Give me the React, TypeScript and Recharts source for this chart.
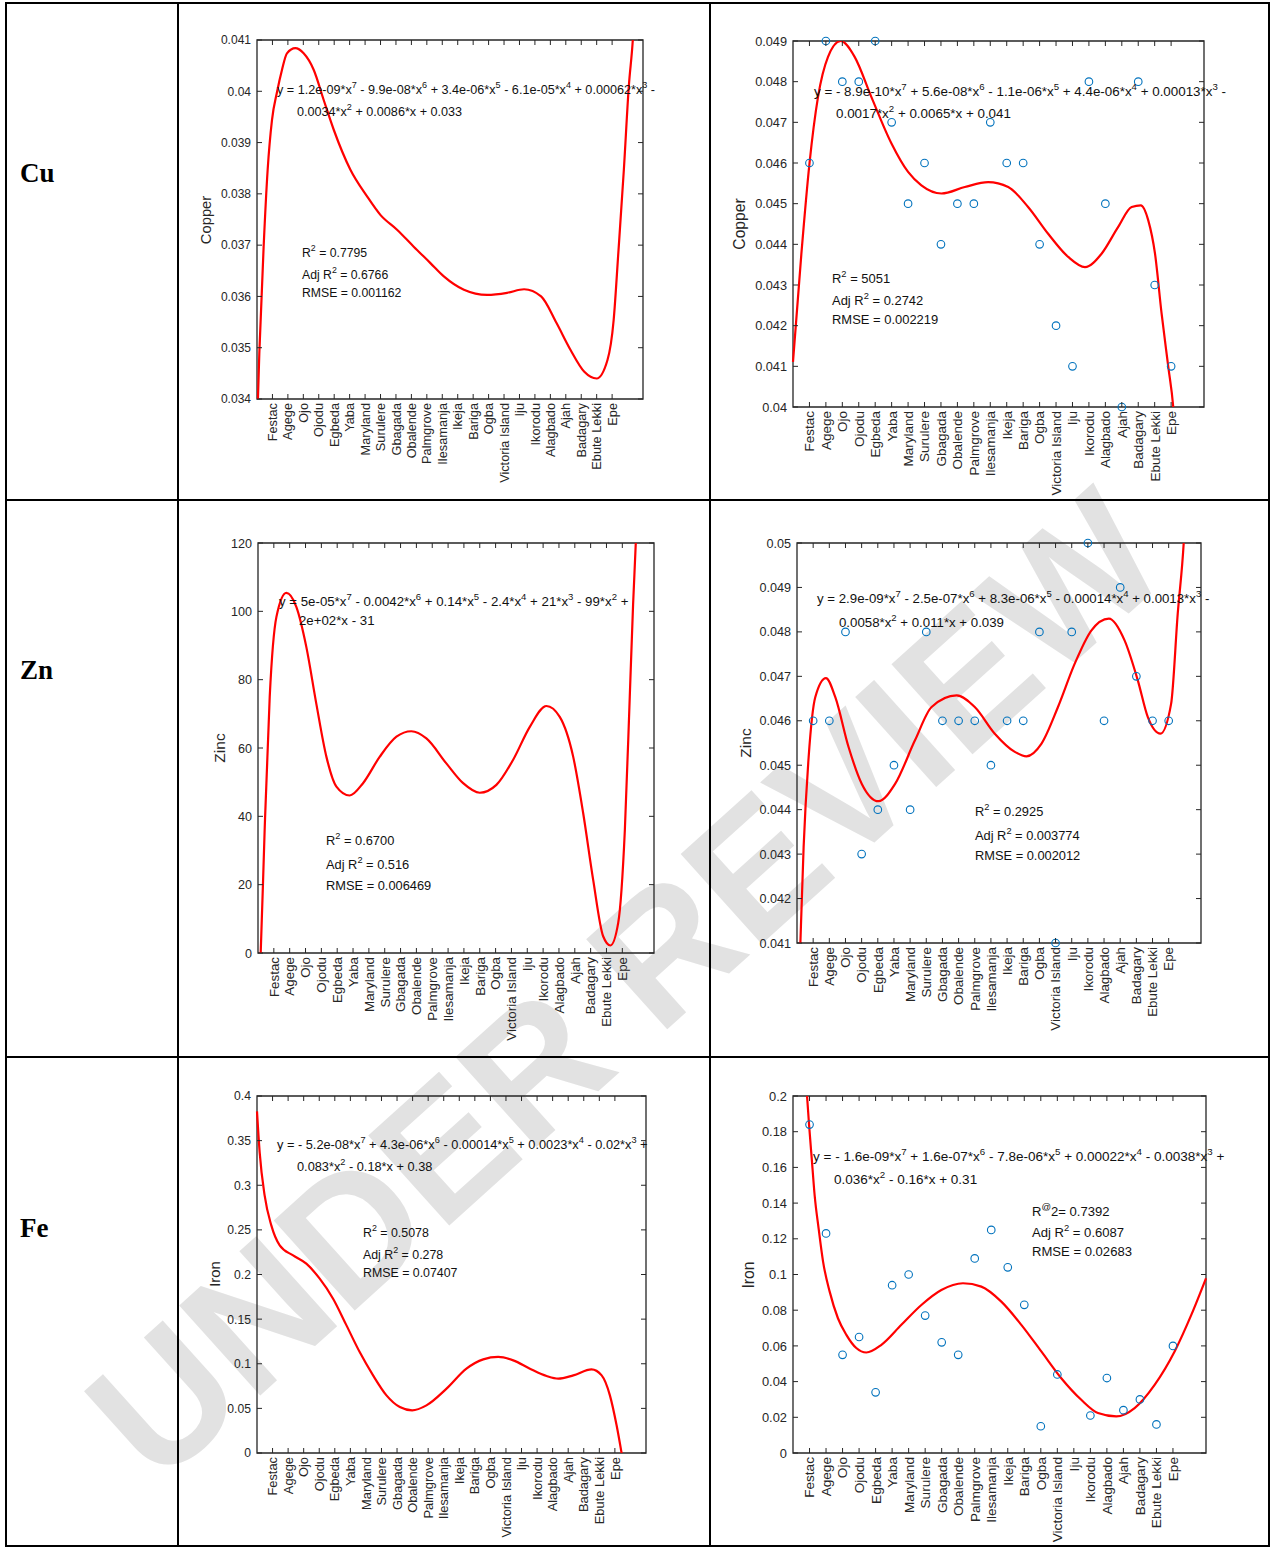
import React from 'react';
import { ComposedChart, Line, Scatter, XAxis, YAxis, ReferenceArea } from 'recharts';

const INK = '#262626';
const FIT_RED = '#ff0000';
const DOT_BLUE = '#0072BD';
const FONT = "'Liberation Sans', Arial, sans-serif";

const SITES = [
  'Festac', 'Agege', 'Ojo', 'Ojodu', 'Egbeda', 'Yaba', 'Maryland', 'Surulere', 'Gbagada',
  'Obalende', 'Palmgrove', 'Ilesamanja', 'Ikeja', 'Bariga', 'Ogba', 'Victoria Island', 'Iju',
  'Ikorodu', 'Alagbado', 'Ajah', 'Badagary', 'Ebute Lekki', 'Epe',
];
const SITE_POS = SITES.map((_, i) => i + 1);

// y tick values per panel
const CU_TICKS_A = [0.034, 0.035, 0.036, 0.037, 0.038, 0.039, 0.04, 0.041];
const CU_TICKS_B = [0.04, 0.041, 0.042, 0.043, 0.044, 0.045, 0.046, 0.047, 0.048, 0.049];
const ZN_TICKS_A = [0, 20, 40, 60, 80, 100, 120];
const ZN_TICKS_B = [0.041, 0.042, 0.043, 0.044, 0.045, 0.046, 0.047, 0.048, 0.049, 0.05];
const FE_TICKS_A = [0, 0.05, 0.1, 0.15, 0.2, 0.25, 0.3, 0.35, 0.4];
const FE_TICKS_B = [0, 0.02, 0.04, 0.06, 0.08, 0.1, 0.12, 0.14, 0.16, 0.18, 0.2];

// measured values (one per site, right-hand panels)
const CU_MEASURED = [0.046, 0.049, 0.048, 0.048, 0.049, 0.047, 0.045, 0.046, 0.044, 0.045, 0.045, 0.047, 0.046, 0.046, 0.044, 0.042, 0.041, 0.048, 0.045, 0.04, 0.048, 0.043, 0.041];
const ZN_MEASURED = [0.046, 0.046, 0.048, 0.043, 0.044, 0.045, 0.044, 0.048, 0.046, 0.046, 0.046, 0.045, 0.046, 0.046, 0.048, 0.041, 0.048, 0.05, 0.046, 0.049, 0.047, 0.046, 0.046];
const FE_MEASURED = [0.184, 0.123, 0.055, 0.065, 0.034, 0.094, 0.1, 0.077, 0.062, 0.055, 0.109, 0.125, 0.104, 0.083, 0.015, 0.044, null, 0.021, 0.042, 0.024, 0.03, 0.016, 0.06];

// fitted curves as [x, y]
const CU_FIT_A = [
  [0, 0.0334], [0.15, 0.03489], [0.43, 0.03697], [0.69, 0.03847], [0.97, 0.03944], [1.3, 0.03999],
  [1.62, 0.04042], [1.94, 0.04074], [2.48, 0.04084], [3.02, 0.04074], [3.67, 0.04042], [4.32, 0.03983],
  [4.97, 0.03925], [6.05, 0.03847], [7.13, 0.03795], [7.99, 0.03759], [9.07, 0.0373], [10.15, 0.03697],
  [11.23, 0.03665], [12.1, 0.03639], [13.4, 0.03613], [14.9, 0.03603], [16.2, 0.03607], [17.3, 0.03614],
  [18.4, 0.036], [19.4, 0.03548], [20.3, 0.03496], [21.2, 0.03453], [22.0, 0.0344], [22.7, 0.03476],
  [23.1, 0.03554], [23.4, 0.03684], [23.76, 0.03847], [24.08, 0.04009], [24.34, 0.041], [24.6, 0.0425],
];
const CU_FIT_B = [
  [0, 0.04111], [0.51, 0.04377], [1, 0.04598], [1.52, 0.04762], [2.13, 0.04861], [2.9, 0.049],
  [3.75, 0.04861], [4.77, 0.04762], [5.99, 0.04648], [7.0, 0.04578], [7.81, 0.04545], [9.03, 0.04525],
  [10.45, 0.04541], [11.87, 0.04553], [13.09, 0.04541], [14.3, 0.04492], [15.52, 0.04426], [16.74, 0.04369],
  [17.76, 0.04344], [18.77, 0.04377], [19.78, 0.04443], [20.6, 0.04492], [21.16, 0.04496], [21.61, 0.04459],
  [22.02, 0.04377], [22.42, 0.0423], [22.83, 0.04098], [23.13, 0.04], [23.5, 0.0375],
];
const ZN_FIT_A = [
  [0, -15], [0.17, 0], [0.42, 36], [0.74, 75], [1.16, 98.3], [1.79, 105.4], [2.42, 101.3], [3.05, 89.6],
  [3.68, 73], [4.32, 57.4], [4.95, 48.7], [5.79, 46.1], [6.63, 49.7], [7.68, 57.4], [8.74, 63.3],
  [9.68, 64.9], [10.63, 62.8], [11.89, 55.5], [12.95, 49.7], [14.0, 46.9], [15.05, 49.2], [16.1, 56.5],
  [17.16, 66.2], [18.21, 72.3], [19.05, 69.1], [19.9, 57.4], [20.53, 40.9], [21.16, 21.4], [21.79, 4.9],
  [22.25, 2.2], [22.74, 8.8], [23.16, 36], [23.47, 75], [23.68, 102], [23.85, 120], [24.2, 170],
];
const ZN_FIT_B = [
  [0, 0.0385], [0.21, 0.041], [0.41, 0.04316], [0.72, 0.04518], [1.13, 0.04653], [1.79, 0.04696],
  [2.37, 0.04653], [3.19, 0.04541], [4.01, 0.04458], [5.04, 0.04419], [6.07, 0.04458], [7.3, 0.04556],
  [8.33, 0.04631], [9.88, 0.04657], [11.0, 0.04631], [12.24, 0.04571], [13.48, 0.0453], [14.2, 0.0452],
  [15.12, 0.04548], [16.15, 0.04631], [17.18, 0.04728], [18.21, 0.04803], [19.3, 0.0483], [20.27, 0.04781],
  [21.09, 0.04691], [21.71, 0.04608], [22.49, 0.04571], [23.15, 0.04638], [23.56, 0.04841], [23.93, 0.05],
  [24.2, 0.052],
];
const FE_FIT_A = [
  [0, 0.3828], [0.17, 0.3372], [0.49, 0.2886], [0.92, 0.255], [1.46, 0.2326], [2.32, 0.2214],
  [3.17, 0.2121], [4.03, 0.1953], [4.89, 0.1729], [5.75, 0.143], [6.6, 0.1131], [7.46, 0.087],
  [8.32, 0.0646], [9.18, 0.0515], [9.97, 0.0478], [10.89, 0.0534], [12.18, 0.0721], [13.46, 0.0945],
  [14.54, 0.1049], [15.5, 0.1076], [16.47, 0.1038], [17.54, 0.0945], [18.61, 0.0863], [19.36, 0.0833],
  [20.33, 0.087], [21.5, 0.0937], [22.15, 0.087], [22.68, 0.0646], [23.11, 0.031], [23.43, 0], [23.8, -0.04],
];
const FE_FIT_B = [
  [0.6, 0.24], [0.85, 0.2], [0.97, 0.1842], [1.15, 0.1631], [1.31, 0.1444], [1.55, 0.1258], [1.82, 0.1072],
  [2.22, 0.0904], [2.72, 0.0755], [3.23, 0.0662], [3.83, 0.0588], [4.44, 0.0563], [5.35, 0.0606],
  [6.56, 0.0718], [7.77, 0.0829], [8.98, 0.0913], [10.29, 0.0951], [11.4, 0.0932], [12.61, 0.0848],
  [13.82, 0.0718], [15.03, 0.0569], [16.24, 0.0419], [17.45, 0.0298], [18.46, 0.0224], [19.57, 0.0205],
  [20.68, 0.0252], [21.89, 0.0382], [23.1, 0.0569], [24.11, 0.0774], [25, 0.0979],
];

const CU_EQ_A = ['y = 1.2e-09*x^7 - 9.9e-08*x^6 + 3.4e-06*x^5 - 6.1e-05*x^4 + 0.00062*x^3 -', '0.0034*x^2 + 0.0086*x + 0.033'];
const CU_STATS_A = ['R^2 = 0.7795', 'Adj R^2 = 0.6766', 'RMSE = 0.001162'];
const CU_EQ_B = ['y = - 8.9e-10*x^7 + 5.6e-08*x^6 - 1.1e-06*x^5 + 4.4e-06*x^4 + 0.00013*x^3 -', '0.0017*x^2 + 0.0065*x + 0.041'];
const CU_STATS_B = ['R^2 = 5051', 'Adj R^2 = 0.2742', 'RMSE = 0.002219'];
const ZN_EQ_A = ['y = 5e-05*x^7 - 0.0042*x^6 + 0.14*x^5 - 2.4*x^4 + 21*x^3 - 99*x^2 +', '2e+02*x - 31'];
const ZN_STATS_A = ['R^2 = 0.6700', 'Adj R^2 = 0.516', 'RMSE = 0.006469'];
const ZN_EQ_B = ['y = 2.9e-09*x^7 - 2.5e-07*x^6 + 8.3e-06*x^5 - 0.00014*x^4 + 0.0013*x^3 -', '0.0058*x^2 + 0.011*x + 0.039'];
const ZN_STATS_B = ['R^2 = 0.2925', 'Adj R^2 = 0.003774', 'RMSE = 0.002012'];
const FE_EQ_A = ['y = - 5.2e-08*x^7 + 4.3e-06*x^6 - 0.00014*x^5 + 0.0023*x^4 - 0.02*x^3 +', '0.083*x^2 - 0.18*x + 0.38'];
const FE_STATS_A = ['R^2 = 0.5078', 'Adj R^2 = 0.278', 'RMSE = 0.07407'];
const FE_EQ_B = ['y = - 1.6e-09*x^7 + 1.6e-07*x^6 - 7.8e-06*x^5 + 0.00022*x^4 - 0.0038*x^3 +', '0.036*x^2 - 0.16*x + 0.31'];
const FE_STATS_B = ['R^@2= 0.7392', 'Adj R^2 = 0.6087', 'RMSE = 0.02683'];

const toPts = (pairs: number[][]) => pairs.map(([x, y]) => ({ x, y }));
const measuredPts = (vals: (number | null)[]) =>
  vals.map((y, i) => ({ x: SITE_POS[i], y })).filter((p) => p.y != null);

const fmt = (v: number) => String(Number(v.toFixed(5)));

// layout of the six panels: plot box in page pixels, text scale, and where the texts sit
const PANELS = [
  {
    box: [257, 40, 643, 399], s: 1.02, yDomain: [0.034, 0.041], yTicks: CU_TICKS_A, fit: CU_FIT_A,
    yLabel: 'Copper', yLabelAt: [211, 220],
    eq: CU_EQ_A, eqAt: [[277, 94], [297, 116]], stats: CU_STATS_A, statsAt: [302, [257, 279, 297]],
  },
  {
    box: [793, 41, 1204, 407], s: 1.08, yDomain: [0.04, 0.049], yTicks: CU_TICKS_B, fit: CU_FIT_B, measured: CU_MEASURED,
    yLabel: 'Copper', yLabelAt: [745, 224],
    eq: CU_EQ_B, eqAt: [[814, 96], [836, 118]], stats: CU_STATS_B, statsAt: [832, [283, 305, 324]],
  },
  {
    box: [258, 543, 654, 953], s: 1.07, yDomain: [0, 120], yTicks: ZN_TICKS_A, fit: ZN_FIT_A,
    yLabel: 'Zinc', yLabelAt: [225, 748],
    eq: ZN_EQ_A, eqAt: [[279, 606], [299, 625]], stats: ZN_STATS_A, statsAt: [326, [845, 869, 890]],
  },
  {
    box: [797, 543, 1201, 943], s: 1.07, yDomain: [0.041, 0.05], yTicks: ZN_TICKS_B, fit: ZN_FIT_B, measured: ZN_MEASURED,
    yLabel: 'Zinc', yLabelAt: [751, 743],
    eq: ZN_EQ_B, eqAt: [[817, 603], [839, 627]], stats: ZN_STATS_B, statsAt: [975, [816, 840, 860]],
  },
  {
    box: [257, 1096, 646, 1453], s: 1.03, yDomain: [0, 0.4], yTicks: FE_TICKS_A, fit: FE_FIT_A,
    yLabel: 'Iron', yLabelAt: [220, 1274],
    eq: FE_EQ_A, eqAt: [[277, 1149], [297, 1171]], stats: FE_STATS_A, statsAt: [363, [1237, 1259, 1277]],
  },
  {
    box: [793, 1096, 1206, 1453], s: 1.09, yDomain: [0, 0.2], yTicks: FE_TICKS_B, fit: FE_FIT_B, measured: FE_MEASURED,
    yLabel: 'Iron', yLabelAt: [754, 1275],
    eq: FE_EQ_B, eqAt: [[813, 1161], [834, 1184]], stats: FE_STATS_B, statsAt: [1032, [1216, 1237, 1256]],
  },
];

const ROW_LABELS = [
  { text: 'Cu', y: 182 },
  { text: 'Zn', y: 679 },
  { text: 'Fe', y: 1237 },
];

function SupText({ x, y, text, size = 12 }: { x: number; y: number; text: string; size?: number }) {
  const parts = text.split(/\^(.)/);
  const kids: React.ReactNode[] = [];
  const lift = size * 0.45;
  let raised = false;
  parts.forEach((p, i) => {
    if (i % 2 === 1) {
      kids.push(<tspan key={i} dy={-lift} fontSize={size * 0.72}>{p}</tspan>);
      raised = true;
    } else if (p) {
      kids.push(<tspan key={i} dy={raised ? lift : 0}>{p}</tspan>);
      raised = false;
    }
  });
  return (
    <text x={x} y={y} fontSize={size} fill="#111" fontFamily={FONT} style={{ whiteSpace: 'pre' }}>
      {kids}
    </text>
  );
}

function SiteTick({ x, y, payload, top, size }: any) {
  return (
    <g>
      <line x1={x} x2={x} y1={y} y2={y - 5} stroke={INK} />
      <line x1={x} x2={x} y1={top} y2={top + 5} stroke={INK} />
      <text
        transform={`translate(${x + size * 0.36},${y + 4}) rotate(-90)`}
        textAnchor="end"
        fontSize={size}
        fill={INK}
        fontFamily={FONT}
      >
        {SITES[payload.value - 1]}
      </text>
    </g>
  );
}

function ValueTick({ y, payload, left, right, size }: any) {
  return (
    <g>
      <line x1={left} x2={left + 5} y1={y} y2={y} stroke={INK} />
      <line x1={right - 5} x2={right} y1={y} y2={y} stroke={INK} />
      <text x={left - 6} y={y + size * 0.36} textAnchor="end" fontSize={size} fill={INK} fontFamily={FONT}>
        {fmt(payload.value)}
      </text>
    </g>
  );
}

const Ring = (props: any) => (
  <circle cx={props.cx} cy={props.cy} r={3.8} fill="none" stroke={DOT_BLUE} strokeWidth={1.1} />
);

function ChartPanel({ p }: { p: any }) {
  const [x0, y0, x1, y1] = p.box;
  const plotTop = 10;
  const plotLeft = 80;
  const plotRight = 80 + (x1 - x0);
  return (
    <div style={{ position: 'absolute', left: x0 - 80, top: y0 - 10 }}>
      <ComposedChart
        width={x1 - x0 + 90}
        height={y1 - y0 + 110}
        margin={{ top: 10, right: 10, left: 20, bottom: 0 }}
      >
        <XAxis
          type="number"
          dataKey="x"
          domain={[0, 25]}
          ticks={SITE_POS}
          interval={0}
          height={100}
          axisLine={false}
          tickLine={false}
          tickSize={0}
          tickMargin={0}
          tick={(t: any) => <SiteTick {...t} top={plotTop} size={12.5 * p.s} />}
        />
        <YAxis
          yAxisId="v"
          type="number"
          dataKey="y"
          domain={p.yDomain}
          ticks={p.yTicks}
          interval={0}
          allowDataOverflow
          width={60}
          axisLine={false}
          tickLine={false}
          tickSize={0}
          tickMargin={0}
          tick={(t: any) => <ValueTick {...t} left={plotLeft} right={plotRight} size={11.8 * p.s} />}
        />
        <YAxis yAxisId="pts" type="number" dataKey="y" domain={p.yDomain} hide />
        <ReferenceArea
          yAxisId="v"
          x1={0}
          x2={25}
          y1={p.yDomain[0]}
          y2={p.yDomain[1]}
          fill="none"
          stroke={INK}
          strokeWidth={1.3}
        />
        <Line
          yAxisId="v"
          data={toPts(p.fit)}
          dataKey="y"
          type="monotone"
          stroke={FIT_RED}
          strokeWidth={2.2}
          dot={false}
          activeDot={false}
          isAnimationActive={false}
        />
        {p.measured && (
          <Scatter
            yAxisId="pts"
            data={measuredPts(p.measured)}
            dataKey="y"
            shape={Ring}
            isAnimationActive={false}
          />
        )}
      </ComposedChart>
    </div>
  );
}

export default function App() {
  return (
    <div style={{ position: 'absolute', left: 0, top: 0, width: 1271, height: 1551, background: '#fff' }}>
      <svg width={1271} height={1551} style={{ position: 'absolute', left: 0, top: 0 }}>
        <text
          x={625}
          y={985}
          transform="rotate(-42 625 985)"
          textAnchor="middle"
          dominantBaseline="central"
          fontSize={176}
          fontWeight="bold"
          fill="#e2e2e2"
          fontFamily={FONT}
        >
          UNDER REVIEW
        </text>
      </svg>

      {PANELS.map((p, i) => (
        <ChartPanel key={i} p={p} />
      ))}

      <svg width={1271} height={1551} style={{ position: 'absolute', left: 0, top: 0, pointerEvents: 'none' }}>
        <g stroke="#000" strokeWidth={2} fill="none">
          <rect x={6} y={3} width={1263} height={1543} />
          <line x1={178} x2={178} y1={3} y2={1546} />
          <line x1={710} x2={710} y1={3} y2={1546} />
          <line x1={6} x2={1269} y1={500} y2={500} />
          <line x1={6} x2={1269} y1={1057} y2={1057} />
        </g>
        {ROW_LABELS.map((r) => (
          <text key={r.text} x={20} y={r.y} fontSize={27} fontWeight="bold" fontFamily="'Liberation Serif', 'Times New Roman', serif">
            {r.text}
          </text>
        ))}
        {PANELS.map((p: any, i) => (
          <g key={i}>
            <text
              transform={`translate(${p.yLabelAt[0]},${p.yLabelAt[1]}) rotate(-90)`}
              textAnchor="middle"
              fontSize={14.5 * p.s}
              fill={INK}
              fontFamily={FONT}
            >
              {p.yLabel}
            </text>
            {p.eq.map((line: string, j: number) => (
              <SupText key={`e${j}`} x={p.eqAt[j][0]} y={p.eqAt[j][1]} text={line} size={12.4 * p.s} />
            ))}
            {p.stats.map((line: string, j: number) => (
              <SupText key={`s${j}`} x={p.statsAt[0]} y={p.statsAt[1][j]} text={line} size={12 * p.s} />
            ))}
          </g>
        ))}
      </svg>
    </div>
  );
}
